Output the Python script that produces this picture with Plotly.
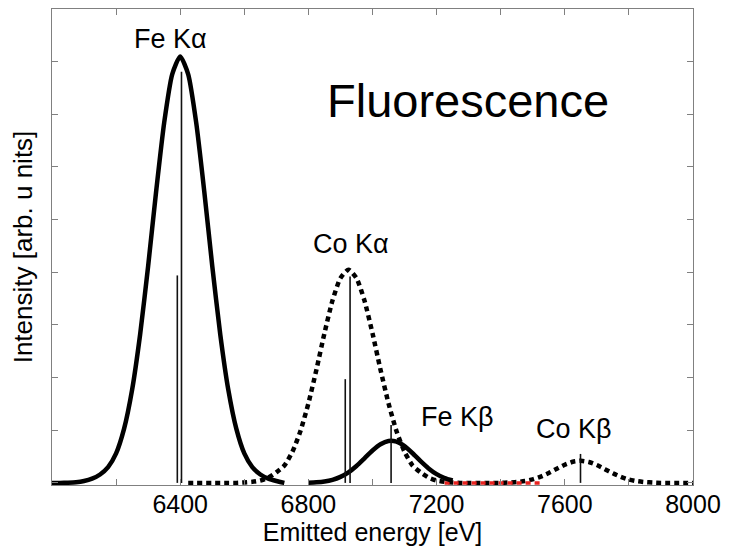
import plotly.graph_objects as go

# ---------------- data ----------------
# intensity units: one y tick = 1 arbitrary unit; axis 0..9
fe_ka_energy = [6000, 6025, 6050, 6075, 6100, 6125, 6150, 6175, 6200, 6225, 6250, 6275,
                6300, 6325, 6350, 6375, 6400, 6425, 6450, 6475, 6500, 6525, 6550, 6575,
                6600, 6625, 6650, 6675, 6700, 6725]
fe_ka_values = [0.0, 0.0, 0.004, 0.012, 0.035, 0.08, 0.16, 0.30, 0.56, 1.03, 1.77, 2.82,
                4.12, 5.54, 6.84, 7.76, 8.10, 7.76, 6.84, 5.54, 4.12, 2.82, 1.77, 1.03,
                0.56, 0.30, 0.16, 0.08, 0.035, 0.0]

fe_kb_energy = [6800, 6825, 6850, 6875, 6900, 6925, 6950, 6975, 7000, 7025, 7050, 7075,
                7100, 7125, 7150, 7175, 7200, 7225, 7250]
fe_kb_values = [0.004, 0.012, 0.027, 0.058, 0.114, 0.201, 0.322, 0.467, 0.615, 0.735, 0.796,
                0.782, 0.697, 0.563, 0.413, 0.275, 0.166, 0.091, 0.045]

co_energy = [6425, 6450, 6475, 6500, 6525, 6550, 6575,
             6600, 6625, 6650, 6675, 6700, 6725, 6750, 6775, 6800, 6825, 6850, 6875,
             6900, 6925, 6950, 6975, 7000, 7025, 7050, 7075, 7100, 7125, 7150, 7175,
             7200, 7225, 7250, 7275, 7300, 7325, 7350, 7375, 7400, 7425, 7450, 7475,
             7500, 7525, 7550, 7575, 7600, 7625, 7650, 7675, 7700, 7725, 7750, 7775,
             7800, 7825, 7850, 7875, 7900, 7925, 7950, 7975, 8000]
co_values = [0, 0, 0, 0, 0, 0, 0,
             0.008, 0.02, 0.045, 0.10, 0.20, 0.33, 0.59, 0.98, 1.51, 2.15, 2.84, 3.46,
             3.89, 4.05, 3.89, 3.46, 2.84, 2.15, 1.51, 0.98, 0.59, 0.33, 0.20, 0.10,
             0.045, 0.02, 0.008, 0, 0, 0, 0, 0, 0, 0.007, 0.016, 0.035,
             0.068, 0.119, 0.188, 0.268, 0.345, 0.401, 0.42, 0.397, 0.339, 0.261, 0.182, 0.114,
             0.064, 0.033, 0.015, 0.006, 0, 0, 0, 0, 0]

# emission lines (sticks)
stick_energy = [6391, 6404, 6915, 6930, 7058, 7649]
stick_height = [3.94, 7.81, 1.97, 3.92, 1.10, 0.55]

red_energy = [7225, 7525]
red_values = [0, 0]

x_tickvals = [6000, 6200, 6400, 6600, 6800, 7000, 7200, 7400, 7600, 7800, 8000]
x_ticktext = ["", "", "6400", "", "6800", "", "7200", "", "7600", "", "8000"]
y_tickvals = [0, 1, 2, 3, 4, 5, 6, 7, 8, 9]

peak_labels = ["Fe Kα", "Co Kα", "Fe Kβ", "Co Kβ"]

# ---------------- figure ----------------
FONT = "Liberation Sans, Arial, sans-serif"
fig = go.Figure()

# Co (dotted)
fig.add_trace(go.Scatter(x=co_energy, y=co_values, mode="lines",
                         line=dict(color="black", width=4.5, dash="5px,4px", shape="spline", smoothing=0.6),
                         hoverinfo="skip", showlegend=False))
# red dashed segment on the baseline
fig.add_trace(go.Scatter(x=red_energy, y=red_values, mode="lines",
                         line=dict(color="#e8231f", width=3.5, dash="5px,4px"),
                         hoverinfo="skip", showlegend=False))
# Fe (solid)
for xs, ys in [(fe_ka_energy, fe_ka_values), (fe_kb_energy, fe_kb_values)]:
    fig.add_trace(go.Scatter(x=xs, y=ys, mode="lines",
                             line=dict(color="black", width=4.5, shape="spline", smoothing=0.6),
                             hoverinfo="skip", showlegend=False))

# sticks
sx, sy = [], []
for e, h in zip(stick_energy, stick_height):
    sx += [e, e, None]
    sy += [0, h, None]
fig.add_trace(go.Scatter(x=sx, y=sy, mode="lines", line=dict(color="#111111", width=1.6),
                         hoverinfo="skip", showlegend=False))

# peak labels
label_pos = [(6371, 8.43), (6933, 4.53), (7264, 1.26), (7629, 1.02)]
for txt, (lx, ly) in zip(peak_labels, label_pos):
    fig.add_annotation(x=lx, y=ly, text=txt, showarrow=False,
                       font=dict(family=FONT, size=27, color="black"))

fig.add_annotation(x=7298, y=7.26, text="Fluorescence", showarrow=False,
                   font=dict(family=FONT, size=47, color="black"))

axis_common = dict(showline=True, linecolor="#808080", linewidth=1.2, mirror="ticks",
                   ticks="inside", ticklen=6, tickcolor="#808080", tickwidth=1,
                   showgrid=False, zeroline=False)

fig.update_xaxes(range=[6000, 8000], tickvals=x_tickvals, ticktext=x_ticktext,
                 tickfont=dict(family=FONT, size=25, color="black"),
                 ticklabelstandoff=-3,
                 title=dict(text="Emitted energy [eV]", standoff=5,
                            font=dict(family=FONT, size=25, color="black")),
                 **axis_common)
fig.update_yaxes(range=[-0.04, 9], tickvals=y_tickvals, showticklabels=False,
                 title=dict(text="Intensity [arb. u nits]", standoff=10,
                            font=dict(family=FONT, size=26, color="black")),
                 **axis_common)

# the page adds an 8px body margin, so the figure is sized to fit the window
fig.update_layout(width=724, height=541, margin=dict(l=44, r=39, t=1, b=64),
                  paper_bgcolor="white", plot_bgcolor="white", showlegend=False)

fig.write_html("out.html")
